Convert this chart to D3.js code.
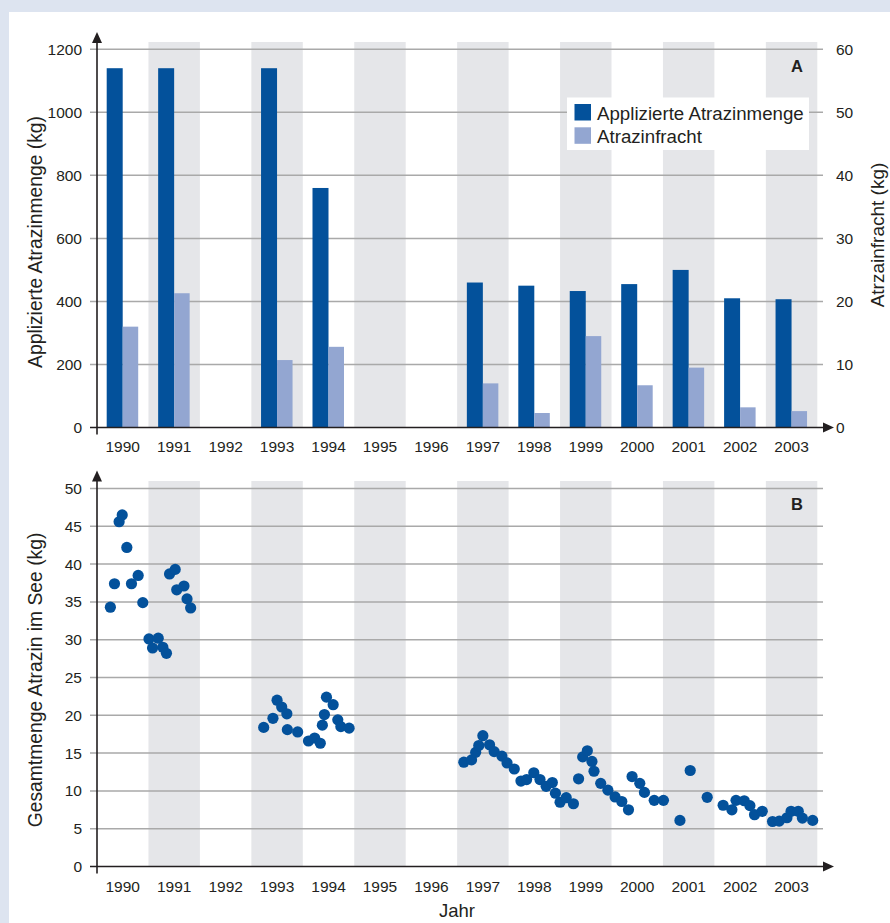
<!DOCTYPE html>
<html>
<head>
<meta charset="utf-8">
<script src="https://cdn.jsdelivr.net/npm/d3@7/dist/d3.min.js"></script>
<style>
  html, body { margin: 0; padding: 0; background: #dde4f0; }
  svg { display: block; }
  text { font-family: "Liberation Sans", Arial, Helvetica, sans-serif; fill: #231f20; }
</style>
</head>
<body>
<script>
// Years on the horizontal axis
const years = [1990, 1991, 1992, 1993, 1994, 1995, 1996, 1997, 1998, 1999, 2000, 2001, 2002, 2003];

// Panel A: applied atrazine (kg, left axis) and atrazine load (kg, right axis); null = no data
const applied = [1140, 1140, null, 1140, 760, null, null, 460, 450, 433, 455, 500, 410, 407];
const load    = [16.0, 21.3, null, 10.7, 12.8, null, null, 7.0, 2.3, 14.5, 6.7, 9.5, 3.2, 2.6];

// Panel B: total atrazine in the lake (kg), sampled at decimal-year dates
const sampleDates = [
  1990.26, 1990.34, 1990.43, 1990.49, 1990.58, 1990.67, 1990.80, 1990.89,
  1991.01, 1991.08, 1991.19, 1991.28, 1991.35, 1991.41, 1991.52, 1991.55, 1991.69, 1991.75, 1991.82,
  1993.24, 1993.42, 1993.50, 1993.59, 1993.69, 1993.70, 1993.90,
  1994.11, 1994.23, 1994.34, 1994.38, 1994.42, 1994.46, 1994.59, 1994.68, 1994.74, 1994.90,
  1997.13, 1997.28, 1997.36, 1997.42, 1997.50, 1997.63, 1997.72, 1997.87, 1997.97,
  1998.11, 1998.24, 1998.35, 1998.49, 1998.61, 1998.73, 1998.85, 1998.91,
  1999.00, 1999.12, 1999.26, 1999.36, 1999.44, 1999.53, 1999.62, 1999.66, 1999.79, 1999.93,
  2000.07, 2000.20, 2000.33, 2000.40, 2000.55, 2000.64, 2000.83,
  2001.01, 2001.33, 2001.53, 2001.86,
  2002.17, 2002.34, 2002.42, 2002.58, 2002.69, 2002.78, 2002.93,
  2003.13, 2003.26, 2003.41, 2003.49, 2003.63, 2003.71, 2003.91
];
const lakeTotal = [
  34.3, 37.4, 45.6, 46.5, 42.2, 37.4, 38.5, 34.9,
  30.1, 28.9, 30.2, 29.0, 28.2, 38.7, 39.3, 36.6, 37.1, 35.4, 34.2,
  18.4, 19.6, 22.0, 21.1, 20.2, 18.1, 17.8,
  16.6, 17.0, 16.3, 18.7, 20.1, 22.4, 21.4, 19.4, 18.5, 18.3,
  13.8, 14.1, 15.1, 16.0, 17.3, 16.1, 15.2, 14.6, 13.7,
  12.9, 11.3, 11.5, 12.4, 11.5, 10.6, 11.1, 9.7,
  8.5, 9.1, 8.3, 11.6, 14.5, 15.3, 13.9, 12.6, 11.0, 10.1,
  9.2, 8.6, 7.5, 11.9, 11.0, 9.8, 8.75,
  8.75, 6.1, 12.7, 9.15,
  8.1, 7.5, 8.75, 8.7, 8.05, 6.85, 7.3,
  5.95, 6.0, 6.45, 7.3, 7.3, 6.4, 6.1
];

const leftTicksA  = [0, 200, 400, 600, 800, 1000, 1200];
const rightTicksA = [0, 10, 20, 30, 40, 50, 60];
const ticksB      = [0, 5, 10, 15, 20, 25, 30, 35, 40, 45, 50];
const seriesNames = ["Applizierte Atrazinmenge", "Atrazinfracht"];

const W = 890, H = 923;
const C = { dark: "#03519b", light: "#93a6d1", band: "#e5e6e9", grid: "#a9a9a9", axis: "#231f20", bg: "#dde4f0" };
const FONT = "'Liberation Sans', Arial, sans-serif";
const TITLE_SIZE = 19.3;

const svg = d3.select("body").append("svg").attr("width", W).attr("height", H);
svg.append("rect").attr("width", W).attr("height", H).attr("fill", C.bg);
svg.append("rect").attr("x", 9).attr("y", 12).attr("width", W - 9).attr("height", H - 12).attr("fill", "#fff");

const X0 = 97, X1 = 817.3;
const xBand = d3.scaleBand().domain(years).range([X0, X1]).padding(0);
const xTime = d3.scaleLinear().domain([1990, 2004]).range([X0, X1]);
const xSub = d3.scaleBand().domain(seriesNames).range([9.7, 41.7]);

function arrowUp(g, x, y) {
  g.append("path").attr("d", `M${x},${y} L${x - 5},${y + 11} L${x + 5},${y + 11} Z`).attr("fill", C.axis);
}
function arrowRight(g, x, y) {
  g.append("path").attr("d", `M${x},${y} L${x - 11},${y - 5} L${x - 11},${y + 5} Z`).attr("fill", C.axis);
}

function panel(cfg) {
  const g = svg.append("g");
  const { y, bandTop, ticks } = cfg;
  const y0 = y.range()[0];

  // alternating year shading
  g.selectAll("rect.band").data(years.filter(d => d % 2 === 1)).join("rect")
    .attr("x", d => xBand(d)).attr("width", xBand.bandwidth())
    .attr("y", bandTop).attr("height", y0 - bandTop)
    .attr("fill", C.band);

  // gridlines + left ticks
  g.selectAll("line.grid").data(ticks.filter(t => t !== 0)).join("line")
    .attr("x1", X0 - 7).attr("x2", 823)
    .attr("y1", d => y(d)).attr("y2", d => y(d))
    .attr("stroke", C.grid).attr("stroke-width", 1.5);

  // left tick labels via axis generator
  const ax = g.append("g").attr("transform", `translate(${X0},0)`)
    .call(d3.axisLeft(y).tickValues(ticks).tickSize(0).tickPadding(15).tickFormat(d3.format("d")));
  ax.select(".domain").remove();
  ax.selectAll("text").attr("font-size", 15.5).style("font-family", FONT).attr("fill", "#231f20");

  g.append("text")
    .attr("transform", `translate(42,${cfg.titleY}) rotate(-90)`)
    .attr("text-anchor", "middle").attr("font-size", TITLE_SIZE)
    .text(cfg.title);

  // year labels
  const xa = g.append("g").attr("transform", `translate(0,${y0})`)
    .call(d3.axisBottom(xBand).tickSize(0).tickPadding(cfg.yearPad));
  xa.select(".domain").remove();
  xa.selectAll("text").attr("font-size", 15.5).style("font-family", FONT).attr("fill", "#231f20");

  g.append("text").attr("x", 797).attr("y", cfg.letterY).attr("text-anchor", "middle")
    .attr("font-size", 16.5).attr("font-weight", "bold").text(cfg.letter);

  return g;
}

function axes(g, y, axisTop) {
  const y0 = y.range()[0];
  g.append("line").attr("x1", X0 - 7).attr("x2", 826).attr("y1", y0).attr("y2", y0)
    .attr("stroke", C.axis).attr("stroke-width", 1.6);
  arrowRight(g, 834, y0);
  g.append("line").attr("x1", X0).attr("x2", X0).attr("y1", axisTop + 6).attr("y2", y0 + 7)
    .attr("stroke", C.axis).attr("stroke-width", 1.6);
  arrowUp(g, X0, axisTop);
}

// ---- Panel A ----
const yA = d3.scaleLinear().domain([0, 1200]).range([427.5, 49.3]);
const yAr = d3.scaleLinear().domain([0, 60]).range([427.5, 49.3]);

const gA = panel({
  y: yA, bandTop: 42, ticks: leftTicksA,
  title: "Applizierte Atrazinmenge (kg)", titleY: 242, yearPad: 13,
  letter: "A", letterY: 72
});

// right axis labels
const axR = gA.append("g").attr("transform", `translate(823,0)`)
  .call(d3.axisRight(yAr).tickValues(rightTicksA).tickSize(0).tickPadding(13));
axR.select(".domain").remove();
axR.selectAll("text").attr("font-size", 15.5).style("font-family", FONT).attr("fill", "#231f20");
gA.append("text")
  .attr("transform", `translate(884,235) rotate(-90)`)
  .attr("text-anchor", "middle").attr("font-size", 19)
  .text("Atrzainfracht (kg)");

// bars
const barData = years.map((yr, i) => ({ yr, a: applied[i], l: load[i] }));
gA.selectAll("rect.applied").data(barData.filter(d => d.a != null)).join("rect")
  .attr("x", d => xBand(d.yr) + xSub(seriesNames[0])).attr("width", xSub.bandwidth())
  .attr("y", d => yA(d.a)).attr("height", d => yA(0) - yA(d.a))
  .attr("fill", C.dark);
gA.selectAll("rect.load").data(barData.filter(d => d.l != null)).join("rect")
  .attr("x", d => xBand(d.yr) + xSub(seriesNames[1])).attr("width", xSub.bandwidth() - 0.5)
  .attr("y", d => yAr(d.l)).attr("height", d => yAr(0) - yAr(d.l))
  .attr("fill", C.light);

axes(gA, yA, 32);

// legend
const lg = gA.append("g");
lg.append("rect").attr("x", 567).attr("y", 97.5).attr("width", 242).attr("height", 52.5).attr("fill", "#fff");
[C.dark, C.light].forEach((col, i) => {
  lg.append("rect").attr("x", 574.5).attr("y", 104 + i * 23.3).attr("width", 16.5).attr("height", 16.5).attr("fill", col);
  lg.append("text").attr("x", 597).attr("y", 119.5 + i * 23).attr("font-size", 18.7).text(seriesNames[i]);
});

// ---- Panel B ----
const yB = d3.scaleLinear().domain([0, 50]).range([866.5, 488.5]);
const gB = panel({
  y: yB, bandTop: 481, ticks: ticksB,
  title: "Gesamtmenge Atrazin im See (kg)", titleY: 680, yearPad: 14,
  letter: "B", letterY: 510
});
axes(gB, yB, 470.5);

gB.append("text").attr("x", 457).attr("y", 917).attr("text-anchor", "middle")
  .attr("font-size", 18.5).text("Jahr");

gB.selectAll("circle.pt").data(sampleDates.map((t, i) => ({ t, v: lakeTotal[i] }))).join("circle")
  .attr("cx", d => xTime(d.t)).attr("cy", d => yB(d.v)).attr("r", 5.6)
  .attr("fill", C.dark);
</script>
</body>
</html>
